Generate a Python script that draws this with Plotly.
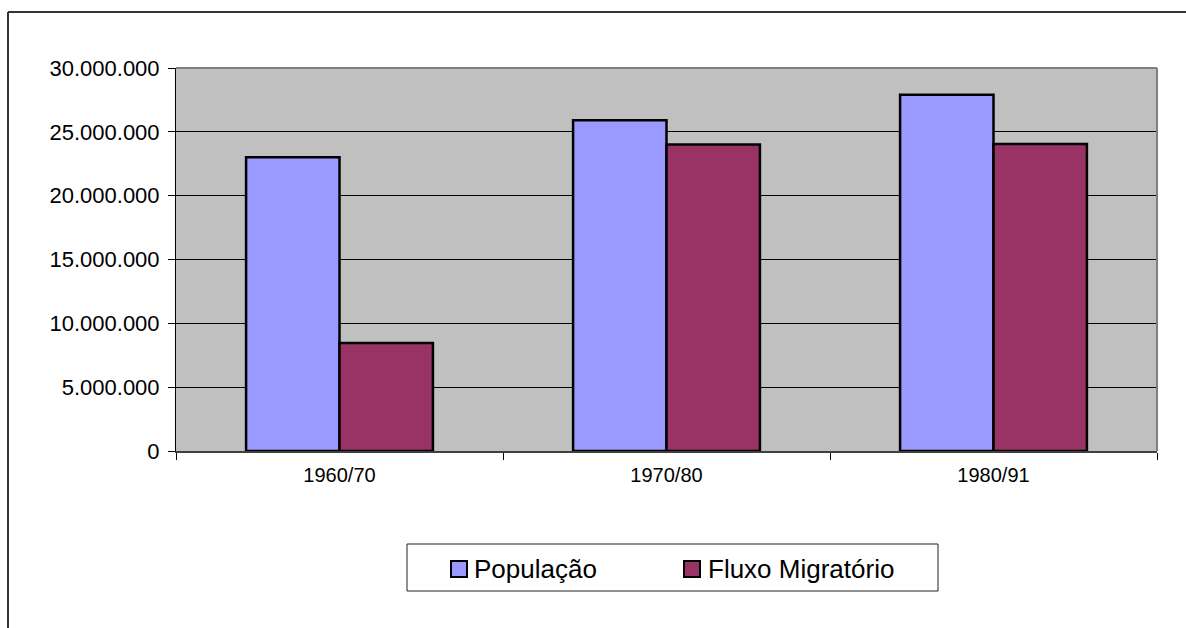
import plotly.graph_objects as go

# Periods and series values
periods = ["1960/70", "1970/80", "1980/91"]
populacao = [23_000_000, 25_900_000, 27_900_000]
fluxo_migratorio = [8_450_000, 24_000_000, 24_050_000]
y_ticks = [0, 5_000_000, 10_000_000, 15_000_000, 20_000_000, 25_000_000, 30_000_000]

series_names = ["População", "Fluxo Migratório"]
series_colors = ["#9999FF", "#993366"]

FONT = "Liberation Sans, Arial, sans-serif"
W, H = 1186, 628
M_L, M_R, M_T, M_B = 176, 29, 68, 177
PLOT_W = W - M_L - M_R
PLOT_H = H - M_T - M_B


def px_x(px):
    """Horizontal pixel position -> paper coordinate."""
    return (px - M_L) / PLOT_W


def px_y(py):
    """Vertical pixel position (from top) -> paper coordinate."""
    return (H - M_B - py) / PLOT_H


fig = go.Figure()
for name, vals, color in zip(series_names, [populacao, fluxo_migratorio], series_colors):
    fig.add_trace(go.Bar(
        x=periods, y=vals, name=name,
        marker=dict(color=color, line=dict(color="black", width=2.5)),
    ))

shapes = []
# Outer chart frame (top and left edges)
shapes.append(dict(type="line", xref="paper", yref="paper",
                   x0=px_x(8), x1=px_x(1190), y0=px_y(12), y1=px_y(12),
                   line=dict(color="#333333", width=2)))
shapes.append(dict(type="line", xref="paper", yref="paper",
                   x0=px_x(8), x1=px_x(8), y0=px_y(12), y1=px_y(632),
                   line=dict(color="#333333", width=2)))
# Plot-area edge (top and right)
shapes.append(dict(type="line", xref="paper", yref="paper", x0=0, x1=1, y0=1, y1=1,
                   line=dict(color="#808080", width=2)))
shapes.append(dict(type="line", xref="paper", yref="paper", x0=1, x1=1, y0=0, y1=1,
                   line=dict(color="#808080", width=2)))

# Legend box with swatches and labels
shapes.append(dict(type="rect", xref="paper", yref="paper",
                   x0=px_x(407), x1=px_x(938), y0=px_y(544), y1=px_y(591),
                   line=dict(color="#222222", width=1), fillcolor="white"))
annotations = []
legend_items = [(451, 472), (684, 706)]
for (sq_x, tx_x), name, color in zip(legend_items, series_names, series_colors):
    shapes.append(dict(type="rect", xref="paper", yref="paper",
                       x0=px_x(sq_x), x1=px_x(sq_x + 16),
                       y0=px_y(561), y1=px_y(577),
                       line=dict(color="black", width=2), fillcolor=color))
    annotations.append(dict(xref="paper", yref="paper", x=px_x(tx_x), y=px_y(569),
                            xanchor="left", yanchor="middle", showarrow=False,
                            text=name, font=dict(size=26, family=FONT, color="black")))

fig.update_layout(
    width=W, height=H,
    margin=dict(l=M_L, r=M_R, t=M_T, b=M_B),
    paper_bgcolor="white",
    plot_bgcolor="#C0C0C0",
    barmode="group",
    bargap=0.4286,
    bargroupgap=0,
    separators=",.",
    font=dict(family=FONT, color="black"),
    shapes=shapes,
    annotations=annotations,
    showlegend=False,
    xaxis=dict(
        type="category",
        tickson="boundaries",
        ticks="outside", ticklen=7, tickcolor="black", tickwidth=1,
        showline=True, linecolor="#404040", linewidth=2,
        showgrid=False,
        tickfont=dict(size=20, family=FONT, color="black"),
        ticklabelstandoff=5,
    ),
    yaxis=dict(
        range=[0, 30_000_000],
        tickvals=y_ticks,
        tickformat=",d",
        ticks="outside", ticklen=7, tickcolor="black", tickwidth=1,
        showline=True, linecolor="black", linewidth=1,
        showgrid=True, gridcolor="black", gridwidth=1,
        zeroline=False,
        tickfont=dict(size=22, family=FONT, color="black"),
        ticklabelstandoff=4,
    ),
)

fig.write_html("out.html")
